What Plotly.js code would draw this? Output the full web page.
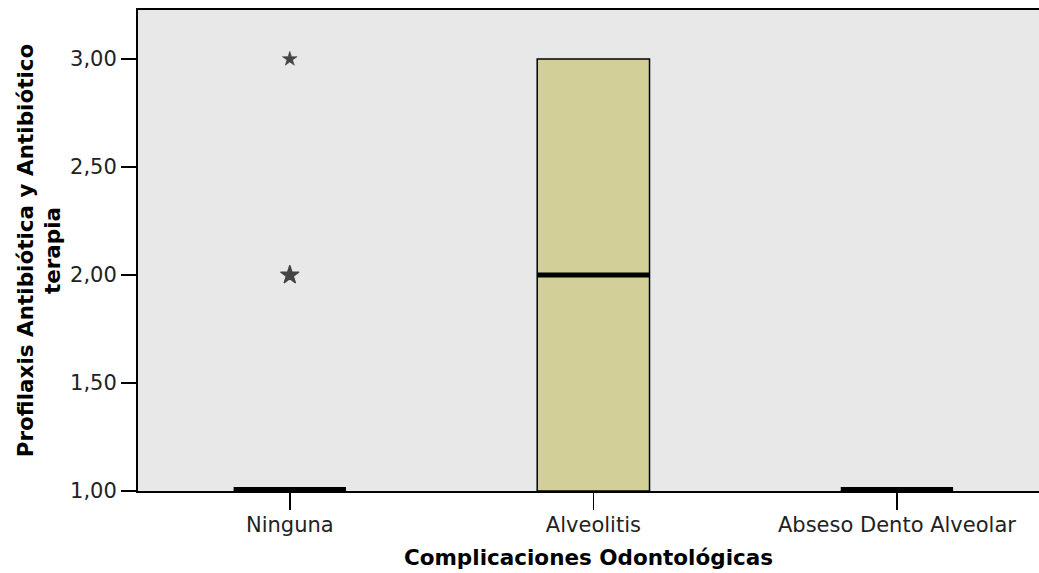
<!DOCTYPE html>
<html>
<head>
<meta charset="utf-8">
<script src="https://cdn.plot.ly/plotly-3.0.1.min.js"></script>
<style>html,body{margin:0;padding:0;background:#fff;}#chart{width:1039px;height:573px;}</style>
</head>
<body>
<div id="chart"></div>
<script>
// Data
const categories = ['Ninguna', 'Alveolitis', 'Abseso Dento Alveolar'];
const q1Values = [1, 1, 1];
const medianValues = [1, 2, 1];
const q3Values = [1, 3, 1];
const lowerFence = [1, 1, 1];
const upperFence = [1, 3, 1];
const outlierCategories = ['Ninguna', 'Ninguna'];
const outlierValues = [3, 2];
const yTickValues = [1, 1.5, 2, 2.5, 3];
const xTitle = 'Complicaciones Odontológicas';
const yTitle = 'Profilaxis Antibiótica y Antibiótico<br>terapia';

const font = 'DejaVu Sans, Liberation Sans, Arial, sans-serif';
const yMin = 1;

const boxTrace = {
  type: 'box',
  x: categories,
  q1: q1Values,
  median: medianValues,
  q3: q3Values,
  lowerfence: lowerFence,
  upperfence: upperFence,
  width: 0.37,
  whiskerwidth: 0,
  fillcolor: '#d3cf98',
  line: {color: '#000', width: 1.5},
  boxpoints: false,
  hoverinfo: 'skip',
  showlegend: false
};

// thick median lines: those on the axis floor are half clipped, so they get a wider stroke
function medianBox(filterFn, w) {
  const idx = medianValues.map((v, i) => i).filter(i => filterFn(medianValues[i]));
  const m = idx.map(i => medianValues[i]);
  return {
    type: 'box',
    x: idx.map(i => categories[i]),
    q1: m, median: m, q3: m, lowerfence: m, upperfence: m,
    width: 0.37,
    whiskerwidth: 0,
    fillcolor: 'rgba(0,0,0,0)',
    line: {color: '#000', width: w},
    boxpoints: false,
    hoverinfo: 'skip',
    showlegend: false
  };
}
const medianInner = medianBox(v => v > yMin, 5);
const medianFloor = medianBox(v => v <= yMin, 8);

const outlierTrace = {
  type: 'scatter',
  mode: 'markers',
  x: outlierCategories,
  y: outlierValues,
  marker: {symbol: 'star', color: '#000', size: [11, 14], line: {width: [0.6, 1.2], color: '#000'}},
  hoverinfo: 'skip',
  showlegend: false,
  cliponaxis: false
};

const layout = {
  width: 1039,
  height: 573,
  margin: {l: 138, r: 0, t: 10, b: 82},
  paper_bgcolor: '#ffffff',
  plot_bgcolor: '#e8e8e8',
  separators: ',.',
  boxmode: 'overlay',
  font: {family: font, color: '#222', size: 21},
  xaxis: {
    type: 'category',
    categoryorder: 'array',
    categoryarray: categories,
    range: [-0.5, 2.468],
    showgrid: false,
    zeroline: false,
    showline: true,
    mirror: true,
    linecolor: '#000',
    linewidth: 2,
    ticks: 'outside',
    ticklen: 17,
    tickwidth: 1.5,
    tickcolor: '#000',
    ticklabelstandoff: -3,
    tickfont: {family: font, size: 21, color: '#222'},
    title: {text: xTitle, font: {family: font, size: 21.5, color: '#000', weight: 'bold'}, standoff: 14}
  },
  yaxis: {
    range: [yMin, 3.227],
    tickvals: yTickValues,
    tickformat: '.2f',
    showgrid: false,
    zeroline: false,
    showline: true,
    mirror: false,
    linecolor: '#000',
    linewidth: 2,
    ticks: 'outside',
    ticklen: 15,
    tickwidth: 1.5,
    tickcolor: '#000',
    tickfont: {family: font, size: 21, color: '#222'},
    title: {text: yTitle, font: {family: font, size: 21.5, color: '#000', weight: 'bold'}, standoff: 3}
  }
};

Plotly.newPlot('chart', [boxTrace, medianInner, medianFloor, outlierTrace], layout, {displayModeBar: false, staticPlot: true});
</script>
</body>
</html>
